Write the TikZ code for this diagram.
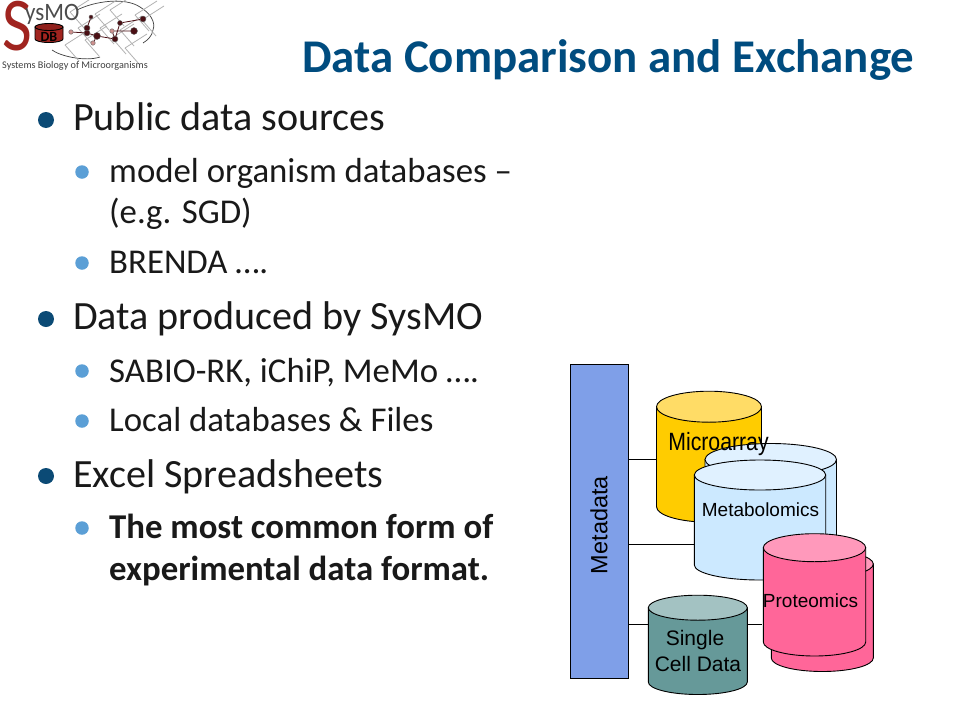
\documentclass[tikz,border=0pt]{standalone}
\usepackage{fontspec}
\setmainfont{Carlito}
\newfontfamily\arialf{Liberation Sans}
\definecolor{titleblue}{HTML}{004C7F}
\definecolor{bulletdark}{HTML}{0B4A75}
\definecolor{bulletlight}{HTML}{5B9FD6}
\definecolor{metacol}{HTML}{7F9FE8}
\definecolor{micbody}{HTML}{FFCC00}
\definecolor{mictop}{HTML}{FFDC66}
\definecolor{metbody}{HTML}{CCE9FF}
\definecolor{mettop}{HTML}{E0F1FF}
\definecolor{probody}{HTML}{FF6699}
\definecolor{protop}{HTML}{FF99BB}
\definecolor{sinbody}{HTML}{669999}
\definecolor{sintop}{HTML}{A3C2C2}
\definecolor{logored}{HTML}{A0241F}
\definecolor{logodark}{HTML}{4A0F14}
\newcommand{\cyl}[7]{% left,right,topcentre,bottomcentre,ry,body,top
  \path[draw=black,line width=0.9pt,fill=#6] (#1,#3) -- (#1,#4) arc[start angle=180,end angle=0,x radius={(#2-#1)/2},y radius=#5] -- (#2,#3) -- cycle;
  \path[draw=black,line width=0.9pt,fill=#7] ({(#1+#2)/2},#3) ellipse[x radius={(#2-#1)/2},y radius=#5];
}
\tikzset{
  lvlone/.style={anchor=base west,inner sep=0,font=\fontsize{40.1}{44}\selectfont,text=black!90},
  lvltwo/.style={anchor=base west,inner sep=0,font=\fontsize{34.8}{40}\selectfont,text=black!90},
  dotone/.style={circle,fill=bulletdark,minimum size=16pt,inner sep=0},
  dottwo/.style={circle,fill=bulletlight,minimum size=13.5pt,inner sep=0},
  diag/.style={inner sep=0,font=\arialf\fontsize{19}{22}\selectfont,text=black},
  wire/.style={draw=black,line width=0.9pt},
  net/.style={draw=black!30,line width=0.8pt},
  knot/.style={circle,fill=logodark,draw=black!60,inner sep=0}
}
\begin{document}
\begin{tikzpicture}[x=1pt,y=-1pt]
\useasboundingbox (0,0) rectangle (960,720);
\fill[white] (0,0) rectangle (960,720);
% logo
\draw[black!75,line width=0.7pt] (77,10) .. controls (95,1) and (125,-3) .. (140,7) .. controls (150,13) and (156,22) .. (153,30) .. controls (152,36) and (148,40) .. (143,43);
\draw[black!75,line width=0.7pt] (52,50) .. controls (60,56) and (85,62) .. (100,57);
\foreach \a/\b in {70/12,100/28,110/10,120/30,135/15,85/40,65/45,125/48,112/38,142/20,95/14,78/28}{\draw[net] (\a,\b) -- ++(22,-14) (\a,\b) -- ++(14,16);}
\node[knot,minimum size=6pt] (k1) at (87,33) {};
\node[knot,minimum size=6pt] (k2) at (87,28) {};
\node[knot,minimum size=7pt] (k3) at (97,36) {};
\node[knot,minimum size=6pt] (k4) at (115,39) {};
\node[knot,minimum size=7pt] (k5) at (134,31) {};
\node[knot,minimum size=5pt] (k6) at (120,23) {};
\node[knot,minimum size=6pt] (k7) at (143,19) {};
\node[knot,minimum size=4pt] (k8) at (91,17) {};
\node[knot,minimum size=4.5pt,fill=logored!50] (k9) at (71,32) {};
\node[knot,minimum size=4.5pt,fill=logored!50] (k10) at (93,43) {};
\node[knot,minimum size=4.5pt,fill=logored!50] (k11) at (112,31) {};
\draw[logodark,line width=0.8pt] (k9)--(k1)--(k3)--(k4)--(k11)--(k5) (k4)--(k6)--(k7) (k3)--(k10) (k2)--(k8);
\cyl{35}{63}{27}{39}{3.5}{logored}{logored!90!black}
\node[inner sep=0,font=\bfseries\fontsize{14}{15}\selectfont,text=black] (dblabel) at (49,37) {DB};
\node[inner sep=0,anchor=base west,font=\fontsize{76}{78}\selectfont,text=logored,xscale=0.85] (bigS) at (2,50) {S};
\node[inner sep=0,anchor=base west,font=\fontsize{25}{26}\selectfont,text=black!70,xscale=0.92] (logoname) at (25,20) {ysMO};
\node[inner sep=0,anchor=base west,font=\fontsize{10.2}{12}\selectfont,text=black!75] (logosub) at (2,68) {Systems Biology of Microorganisms};
% title
\node[anchor=base west,inner sep=0,font=\bfseries\fontsize{46.9}{52}\selectfont,text=titleblue] (title) at (302,72) {Data Comparison and Exchange};
% text
\node[dotone] (b1) at (46,120) {};
\node[lvlone] (t1) at (73,130) {Public data sources};
\node[dottwo] (b2) at (82,172) {};
\node[lvltwo] (t2) at (109,182) {model organism databases –};
\node[lvltwo] (t3) at (109,223) {(e.g. SGD)};
\node[dottwo] (b3) at (82,263) {};
\node[lvltwo] (t4) at (109,273) {BRENDA ….};
\node[dotone] (b4) at (46,319) {};
\node[lvlone] (t5) at (73,329) {Data produced by SysMO};
\node[dottwo] (b5) at (82,371) {};
\node[lvltwo] (t6) at (109,382) {SABIO-RK, iChiP, MeMo ….};
\node[dottwo] (b6) at (82,421) {};
\node[lvltwo] (t7) at (109,431) {Local databases \& Files};
\node[dotone] (b7) at (46,476) {};
\node[lvlone] (t8) at (73,487) {Excel Spreadsheets};
\node[dottwo] (b8) at (82,528) {};
\node[lvltwo,font=\bfseries\fontsize{34.8}{40}\selectfont] (t9) at (109,538) {The most common form of};
\node[lvltwo,font=\bfseries\fontsize{34.8}{40}\selectfont] (t10) at (109,580) {experimental data format.};
% diagram
\node[draw=black,line width=0.9pt,fill=metacol,minimum width=58pt,minimum height=314pt,inner sep=0] (meta) at (599.5,521.5) {};
\node[diag,font=\arialf\fontsize{23.5}{26}\selectfont,rotate=90] (metalabel) at (599,525) {Metadata};
\coordinate (cA) at (656.5,459.3);
\coordinate (cB) at (694.3,544.3);
\coordinate (cC) at (648.3,624.3);
\coordinate (cD) at (762,624.3);
\draw[wire] (meta.east |- cA) -- (cA);
\draw[wire] (meta.east |- cB) -- (cB);
\draw[wire] (meta.east |- cC) -- (cC);
\draw[wire] (747,624.3) -- (cD);
\cyl{656.5}{761.5}{406.7}{506.7}{15.5}{micbody}{mictop}
\cyl{705}{836.5}{459.5}{550}{16}{metbody}{mettop}
\node[diag,font=\arialf\fontsize{25}{28}\selectfont,xscale=0.85] (mic) at (718.5,444) {Microarray};
\cyl{694.3}{825.7}{475}{565}{15}{metbody}{mettop}
\node[diag] (met) at (760.5,509.5) {Metabolomics};
\cyl{771.3}{873.3}{564}{658}{13.5}{probody}{protop}
\cyl{763.3}{865.7}{547.7}{642}{14}{probody}{protop}
\node[diag] (pro) at (810.5,600.5) {Proteomics};
\cyl{648.3}{747.3}{607.7}{682}{12.5}{sinbody}{sintop}
\node[diag,font=\arialf\fontsize{21}{24}\selectfont] (sin1) at (695,640) {Single};
\node[diag,font=\arialf\fontsize{21}{24}\selectfont] (sin2) at (698,664) {Cell Data};
\end{tikzpicture}
\end{document}
